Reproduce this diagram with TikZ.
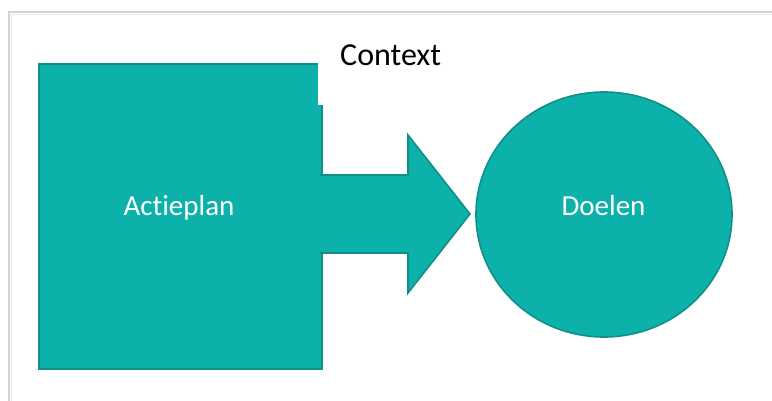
\documentclass[tikz,border=0pt]{standalone}
\usepackage{fontspec}
\setmainfont{Carlito}[Ligatures={NoCommon}]
\usetikzlibrary{shapes.geometric}
\definecolor{teal1}{HTML}{0CB2AA}
\definecolor{teal2}{HTML}{0F8F88}
\definecolor{framegray}{HTML}{D4D4D4}
\tikzset{
  shapefill/.style={fill=teal1, draw=teal2, line width=1.6pt, line join=miter},
  whitelabel/.style={text=white, font=\fontsize{29}{32}\selectfont, inner sep=0pt},
}
\begin{document}
\begin{tikzpicture}[x=1pt,y=-1pt]
\useasboundingbox (0,0) rectangle (772,401);
\fill[white] (0,0) rectangle (772,401);
% frame
\draw[framegray, line width=2pt] (9,401) -- (9,12) -- (772,12);
\draw[framegray!50, line width=1pt] (11.5,401) -- (11.5,14.5) -- (772,14.5);
% action plan square
\node[shapefill, rectangle, minimum width=283pt, minimum height=305pt, inner sep=0pt, anchor=north west] (plan) at (38,63) {};
% arrow
\draw[shapefill] (320,175) -- (408,175) -- (408,135) -- (470,214) -- (408,293) -- (408,253) -- (320,253);
\fill[teal1] (318,176) rectangle (324,252);
% goals circle
\node[shapefill, ellipse, minimum width=256pt, minimum height=245pt, inner sep=0pt] (doelen) at (604,214.5) {};
\node[whitelabel, anchor=base] (tplan) at (179,215) {Actieplan};
\node[whitelabel, anchor=base] (tdoel) at (603.5,215) {Doelen};
% context label
\fill[white] (318,30) rectangle (460,105);
\node[font=\fontsize{32}{36}\selectfont, inner sep=0pt, anchor=base west] (context) at (340,66) {Context};
\end{tikzpicture}
\end{document}
